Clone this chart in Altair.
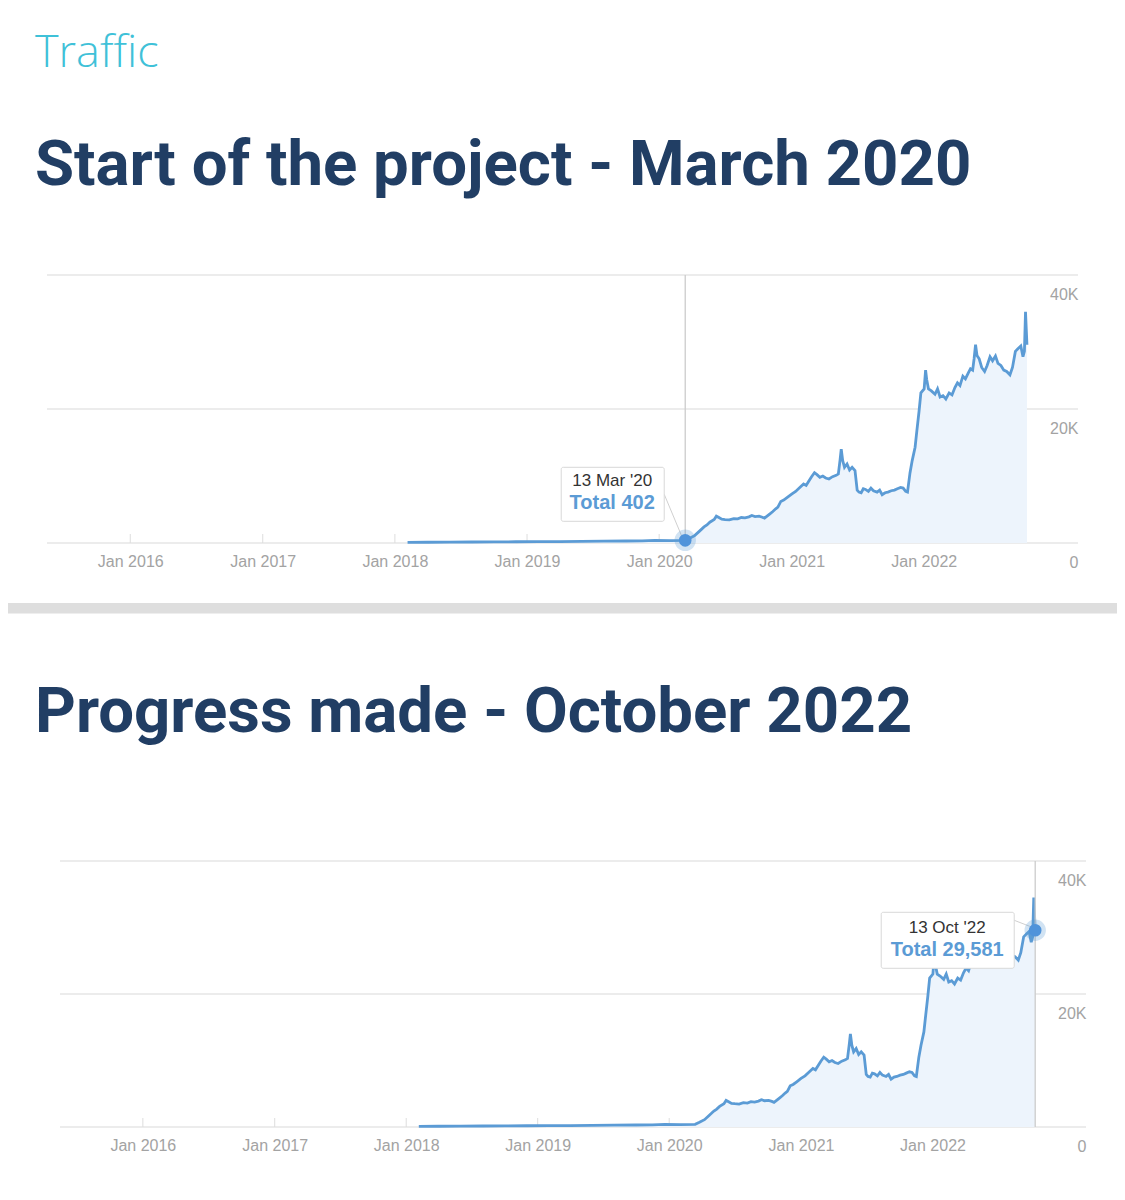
import altair as alt
import pandas as pd

# ---------------- data ----------------
dates = [
    "2018-02-05", "2018-04-01", "2018-06-01", "2018-08-01", "2018-10-01", "2018-12-01",
    "2019-02-01", "2019-04-01", "2019-06-01", "2019-08-01", "2019-10-01", "2019-11-15",
    "2019-12-20", "2020-02-01", "2020-03-13", "2020-03-25", "2020-04-08", "2020-04-20",
    "2020-05-04", "2020-05-12", "2020-05-20", "2020-06-01", "2020-06-07", "2020-06-14",
    "2020-06-22", "2020-07-01", "2020-07-13", "2020-07-25", "2020-08-05", "2020-08-15",
    "2020-08-25", "2020-09-05", "2020-09-13", "2020-09-22", "2020-10-03", "2020-10-12",
    "2020-10-18", "2020-10-26", "2020-11-02", "2020-11-10", "2020-11-18", "2020-11-24",
    "2020-12-02", "2020-12-10", "2020-12-20", "2021-01-01", "2021-01-12", "2021-01-22",
    "2021-02-03", "2021-02-10", "2021-02-18", "2021-02-25", "2021-03-05", "2021-03-12",
    "2021-03-20", "2021-03-28", "2021-04-05", "2021-04-14", "2021-04-24", "2021-05-04",
    "2021-05-10", "2021-05-15", "2021-05-18", "2021-05-22", "2021-05-27", "2021-06-03",
    "2021-06-10", "2021-06-17", "2021-06-25", "2021-07-01", "2021-07-06", "2021-07-12",
    "2021-07-18", "2021-07-24", "2021-08-01", "2021-08-08", "2021-08-15", "2021-08-25",
    "2021-09-01", "2021-09-08", "2021-09-16", "2021-09-24", "2021-10-03", "2021-10-12",
    "2021-10-20", "2021-10-29", "2021-11-05", "2021-11-12", "2021-11-17", "2021-11-24",
    "2021-11-30", "2021-12-08", "2021-12-13", "2021-12-19", "2021-12-24", "2022-01-02",
    "2022-01-06", "2022-01-09", "2022-01-14", "2022-01-22", "2022-02-01", "2022-02-08",
    "2022-02-15", "2022-02-23", "2022-03-03", "2022-03-12", "2022-03-20", "2022-03-28",
    "2022-04-04", "2022-04-11", "2022-04-19", "2022-04-26", "2022-05-04", "2022-05-10",
    "2022-05-16", "2022-05-20", "2022-05-24", "2022-05-28", "2022-06-03", "2022-06-10",
    "2022-06-18", "2022-06-25", "2022-07-03", "2022-07-10", "2022-07-18", "2022-07-25",
    "2022-08-02", "2022-08-10", "2022-08-18", "2022-08-27", "2022-09-03", "2022-09-11",
    "2022-09-18", "2022-09-26", "2022-10-02", "2022-10-06", "2022-10-09", "2022-10-11",
    "2022-10-13",
]
values = [
    90, 110, 120, 150, 160, 190,
    210, 220, 250, 270, 300, 330,
    380, 360, 402, 700, 1100, 1700,
    2400, 2700, 3100, 3500, 4000, 3800,
    3550, 3500, 3450, 3650, 3600, 3800,
    3750, 3900, 4100, 3950, 4000, 3850,
    3700, 4050, 4350, 4700, 5100, 5350,
    6200, 6400, 6800, 7300, 7700, 8200,
    8800, 8600, 9300, 9900, 10500, 10200,
    9800, 10000, 9700, 9550, 9900, 10100,
    10300, 12500, 14000, 12300, 11300, 11800,
    10900, 11300, 10800, 7900, 7600, 7500,
    8100, 8000, 7700, 8200, 7800, 7600,
    7900, 7200, 7500, 7600, 7800, 7900,
    8100, 8300, 8200, 7700, 7600, 10500,
    12300, 14300, 16800, 19700, 22400, 23000,
    25800, 24400, 23000, 22700, 22200, 23000,
    21800, 22000, 21500, 22400, 22100, 23200,
    23900, 23500, 24900, 24500, 25400, 26000,
    25800, 27500, 29600, 28000, 27500, 26200,
    25600, 26500, 27800, 27200, 27900, 26800,
    26500, 25800, 25600, 25100, 26200, 28600,
    29000, 29400, 27800, 28600, 34500, 32000,
    29581,
]

tick_years = [2016, 2017, 2018, 2019, 2020, 2021, 2022]
grid_values = [0, 20000, 40000]

page_title = "Traffic"
heading_1 = "Start of the project - March 2020"
heading_2 = "Progress made - October 2022"

hover_1 = {"date": "2020-03-13", "value": 402, "label": "13 Mar '20", "total": "Total 402"}
hover_2 = {"date": "2022-10-13", "value": 29581, "label": "13 Oct '22", "total": "Total 29,581"}

# ---------------- styling ----------------
NAVY = "#213e64"
CYAN = "#3fc1d8"
LINE = "#5b9bd5"
FILL = "#edf4fc"
GRID = "#e6e6e6"
LABEL = "#a3a3a3"
HEAD_FONT = "Roboto"
AX_FONT = "Liberation Sans"

series = pd.DataFrame({"date": dates, "value": values})
ticks_df = pd.DataFrame({"date": [f"{y}-01-01" for y in tick_years]})
grid_df = pd.DataFrame({"value": grid_values})

DOMAIN = [alt.DateTime(year=2015, month="May", date=16, utc=True),
          alt.DateTime(year=2023, month="Mar", date=3, utc=True)]


def panel(hover, r0, r1, height, heading, head_offset, head_dx, box, txt):
    width = r1
    X = alt.X("date:T",
              scale=alt.Scale(domain=DOMAIN, range=[r0, r1]),
              axis=alt.Axis(title=None,
                            values=[alt.DateTime(year=y, month="Jan", date=1, utc=True) for y in tick_years],
                            labelExpr="utcFormat(datum.value, '%b %Y')",
                            grid=False, ticks=False, tickSize=0, domain=False,
                            labelFont=AX_FONT, labelFontSize=16, labelColor=LABEL,
                            labelPadding=10, labelFlush=False, labelOverlap=False))
    Y = alt.Y("value:Q",
              scale=alt.Scale(domain=[0, 40000], nice=False, zero=True),
              axis=alt.Axis(title=None, orient="right", values=grid_values,
                            labelExpr="datum.value == 0 ? '0' : format(datum.value / 1000, 'd') + 'K'",
                            grid=False, ticks=False, tickSize=0, domain=False,
                            labelAlign="right", labelPadding=0, labelOffset=19,
                            labelFont=AX_FONT, labelFontSize=16, labelColor=LABEL,
                            labelFlush=False))

    hov = pd.DataFrame([hover])

    grid = alt.Chart(grid_df).mark_rule(color=GRID, strokeWidth=1.3).encode(
        y=Y, x=alt.value(r0), x2=alt.value(r1))
    tks = alt.Chart(ticks_df).mark_rule(color="#dddddd", strokeWidth=1).encode(
        x=X, y=alt.value(height - 9), y2=alt.value(height))
    area = alt.Chart(series).mark_area(color=FILL, opacity=1).encode(x=X, y=Y)
    line = alt.Chart(series).mark_line(color=LINE, strokeWidth=2.8).encode(x=X, y=Y)
    vrule = alt.Chart(hov).mark_rule(color="#cccccc", strokeWidth=1.3).encode(x=X)
    conn = alt.Chart(hov).mark_rule(
        color="#d0d0d0", strokeWidth=1,
        xOffset=box["cx0"], yOffset=box["cy0"], x2Offset=-3, y2Offset=-3).encode(
        x=X, x2=alt.X2("date:T"), y=Y, y2=alt.Y2("value:Q"))
    rect = alt.Chart(hov).mark_rect(
        fill="white", stroke="#d8d8d8", strokeWidth=1, cornerRadius=2,
        xOffset=box["x0"], x2Offset=box["x1"], yOffset=box["y0"], y2Offset=box["y1"]).encode(
        x=X, x2=alt.X2("date:T"), y=Y, y2=alt.Y2("value:Q"))
    t1 = alt.Chart(hov).mark_text(
        font=AX_FONT, fontSize=17, color="#333333", align="center", baseline="middle",
        dx=txt["dx"], dy=txt["dy1"]).encode(x=X, y=Y, text="label:N")
    t2 = alt.Chart(hov).mark_text(
        font=AX_FONT, fontSize=20, fontWeight="bold", color=LINE, align="center",
        baseline="middle", dx=txt["dx"], dy=txt["dy2"]).encode(x=X, y=Y, text="total:N")
    halo = alt.Chart(hov).mark_circle(size=460, color=LINE, opacity=0.28).encode(x=X, y=Y)
    dot = alt.Chart(hov).mark_circle(size=160, color="#4f93da", opacity=1).encode(x=X, y=Y)

    return alt.layer(grid, tks, area, line, vrule, conn, rect, t1, t2, halo, dot).properties(
        width=width, height=height,
        title=alt.TitleParams(heading, anchor="start", frame="group", font=HEAD_FONT,
                              fontSize=63.5, fontWeight="bold", color=NAVY,
                              offset=head_offset, dx=head_dx))


p1 = panel(hover_1, 0, 1031, 268, heading_1, 76.3, -12,
           box={"x0": -124, "x1": -21, "y0": -73, "y1": -19, "cx0": -21, "cy0": -46},
           txt={"dx": -73, "dy1": -59, "dy2": -37})
p2 = panel(hover_2, 13, 1039, 266, heading_2, 115.3, -12,
           box={"x0": -154, "x1": -21, "y0": -18, "y1": 38, "cx0": -21, "cy0": -10},
           txt={"dx": -88, "dy1": -2, "dy2": 20})

band = alt.Chart(pd.DataFrame({"k": [0]})).mark_rect(color="#dedede").encode(
    x=alt.value(-39), x2=alt.value(1070), y=alt.value(33), y2=alt.value(43.5)
).properties(width=1031, height=109.2)

chart = alt.vconcat(p1, band, p2, spacing=0).properties(
    title=alt.TitleParams(page_title, anchor="start", frame="group", font="Open Sans",
                          fontSize=45, fontWeight=300, color=CYAN, offset=57.2, dx=-12),
    padding={"left": 0, "top": 23, "right": 0, "bottom": 0},
).configure_view(stroke=None)

chart.save("out.html", embed_options={"renderer": "svg", "actions": False})
